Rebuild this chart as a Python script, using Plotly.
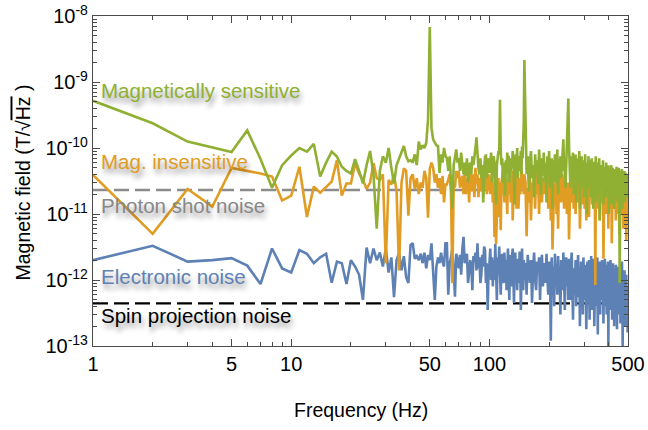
import numpy as np
import plotly.graph_objects as go

# ---------------- data (values in pT/sqrt(Hz)) ----------------
freq = list(range(1, 151)) + list(range(152, 501, 2))

mag_sensitive = [
    # 1..60
    520, 237, 125, 102, 87, 185, 68, 25, 55, 77,
    100, 88, 115, 37, 60, 88, 74, 52, 45, 41,
    68, 45, 29, 55, 90, 40, 6, 45, 75, 60,
    100, 50, 29, 55, 70, 85, 107, 75, 63, 65,
    60, 80, 55, 125, 95, 110, 100, 120, 270, 6800,
    200, 135, 120, 110, 107, 42, 80, 60, 100, 76,
    # 61..150
    70, 45, 75, 28, 12, 55, 80, 95, 60, 70,
    45, 85, 55, 40, 60, 38, 70, 30, 50, 60,
    40, 75, 55, 85, 100, 145, 65, 50, 40, 70,
    35, 55, 15, 40, 60, 80, 35, 50, 70, 42,
    65, 85, 30, 45, 75, 60, 25, 14, 55, 70,
    90, 80, 540, 90, 55, 70, 30, 45, 60, 19,
    65, 40, 85, 50, 76, 30, 60, 45, 70, 50,
    90, 70, 35, 14, 55, 80, 45, 100, 35, 60,
    75, 45, 60, 90, 40, 105, 70, 110, 250, 2150,
    # 152..500 step 2
    120, 40, 75, 22, 60, 90, 35, 55, 18, 80,
    45, 65, 28, 95, 50, 20, 70, 38, 85, 30,
    60, 15, 75, 45, 90, 25, 55, 70, 12, 65,
    40, 80, 30, 55, 95, 20, 60, 45, 75, 35,
    50, 80, 135, 45, 70, 25, 60, 90, 150, 560,
    110, 55, 25, 75, 35, 60, 85, 20, 65, 45,
    80, 15, 50, 70, 30, 55, 90, 12, 60, 40,
    75, 25, 50, 65, 18, 45, 80, 30, 55, 10,
    60, 40, 75, 25, 50, 65, 18, 45, 70, 30,
    55, 12, 48, 62, 22, 40, 75, 15, 45, 35,
    60, 20, 42, 70, 8, 38, 55, 25, 45, 30,
    50, 65, 14, 40, 52, 28, 45, 18, 60, 35,
    48, 22, 40, 55, 10, 38, 50, 25, 42, 30,
    55, 14, 40, 50, 20, 35, 48, 12, 42, 28,
    45, 18, 38, 52, 25, 40, 15, 45, 30, 50,
    20, 0.9, 38, 45, 18, 40, 28, 48, 12, 35,
    42, 20, 38, 30, 45, 15, 35, 42, 22, 38,
    25, 40, 18, 35, 30,
]

mag_insensitive = [
    # 1..60
    39, 5.0, 24, 13, 50, 45, 41, 37, 16, 19,
    52, 9, 26, 21, 26, 31, 65, 19, 29, 29,
    59, 41, 33, 24, 30, 59, 35, 33, 40, 1.8,
    33, 28, 40, 22, 1.4, 30, 49, 45, 9.4, 35,
    40, 24, 35, 20, 30, 25, 45, 35, 8.8, 48,
    60, 50, 30, 40, 25, 35, 20, 38, 15, 28,
    # 61..150
    28, 34, 40, 20, 0.9, 30, 25, 45, 35, 45,
    25, 30, 38, 20, 45, 20, 35, 30, 15, 45,
    22, 40, 35, 18, 50, 28, 40, 18, 35, 22,
    40, 28, 22, 45, 76, 35, 20, 30, 40, 25,
    20, 35, 40, 15, 30, 4.5, 25, 3.5, 20, 25,
    35, 9, 30, 5.7, 30, 40, 45, 25, 15, 35,
    30, 20, 10, 40, 25, 20, 45, 15, 35, 45,
    8, 25, 30, 18, 35, 40, 12, 28, 40, 12,
    30, 35, 20, 25, 48, 30, 25, 40, 20, 40,
    # 152..500 step 2
    30, 4.6, 25, 15, 40, 8, 30, 25, 35, 12,
    45, 20, 30, 10, 38, 22, 15, 35, 28, 20,
    30, 18, 40, 12, 25, 35, 8, 28, 2.9, 22,
    28, 15, 35, 10, 25, 6, 30, 20, 38, 15,
    40, 18, 30, 12, 45, 20, 28, 10, 25, 30,
    4.1, 22, 35, 15, 30, 20, 38, 12, 25, 30,
    10, 28, 18, 38, 15, 25, 32, 6, 20, 30,
    32, 14, 25, 20, 40, 12, 28, 35, 8, 22,
    28, 35, 15, 9, 25, 30, 18, 22, 30, 14,
    25, 35, 20, 12, 28, 0.84, 22, 30, 15, 35,
    25, 12, 30, 20, 8, 28, 35, 15, 22, 30,
    18, 25, 2.1, 20, 28, 12, 22, 18, 30, 10,
    25, 15, 30, 6, 22, 28, 15, 20, 25, 12,
    28, 3.6, 20, 26, 14, 22, 30, 12, 24, 18,
    24, 8, 20, 28, 14, 30, 22, 10, 25, 18,
    5, 22, 18, 28, 10, 25, 15, 20, 30, 10,
    20, 6, 18, 24, 12, 22, 9, 15, 20, 4,
    18, 12, 22, 8, 15,
]

electronic = [
    # 1..60
    2.0, 3.3, 1.9, 2.0, 2.14, 1.65, 0.87, 3.0, 1.5, 1.3,
    2.85, 2.5, 1.8, 2.2, 2.5, 0.91, 1.9, 1.8, 0.87, 2.0,
    1.6, 1.2, 0.5, 3.1, 1.8, 3.0, 2.0, 2.6, 1.6, 3.0,
    1.3, 2.2, 0.55, 2.0, 2.6, 1.4, 2.3, 1.1, 0.9, 3.4,
    3.6, 2.1, 2.3, 2.0, 2.5, 1.8, 2.6, 1.5, 2.4, 2.0,
    3.6, 1.5, 0.5, 1.6, 2.2, 1.8, 2.6, 1.9, 1.6, 3.6,
    # 61..150
    3.6, 0.6, 1.8, 2.2, 3.0, 1.4, 0.56, 2.5, 2.0, 1.5,
    2.4, 1.2, 3.0, 4.5, 1.8, 2.2, 2.5, 0.9, 1.3, 2.0,
    1.6, 0.7, 2.3, 1.9, 2.6, 1.4, 3.6, 1.5, 2.2, 0.9,
    1.2, 2.4, 1.6, 3.2, 2.8, 0.9, 1.8, 0.35, 1.4, 1.8,
    3.0, 1.0, 2.2, 0.8, 2.0, 1.0, 3.5, 1.6, 0.5, 2.2,
    1.2, 3.2, 1.5, 0.6, 1.8, 2.5, 1.0, 0.9, 2.6, 1.3,
    2.0, 0.7, 1.4, 3.0, 1.1, 0.5, 2.4, 1.6, 0.8, 2.2,
    3.0, 1.2, 0.45, 1.9, 2.6, 1.0, 1.5, 0.7, 2.1, 1.3,
    0.9, 2.7, 1.6, 0.35, 1.8, 3.0, 1.2, 0.7, 2.0, 1.6,
    # 152..500 step 2
    1.8, 0.6, 2.4, 1.2, 0.9, 2.0, 0.45, 1.5, 2.6, 1.0,
    0.7, 1.9, 1.3, 2.2, 0.5, 1.6, 2.4, 0.8, 1.2, 1.8,
    0.9, 2.5, 1.1, 0.6, 1.9, 1.4, 0.12, 2.2, 0.8, 1.6,
    0.4, 2.5, 1.1, 1.7, 0.6, 2.3, 0.9, 1.4, 0.3, 2.0,
    1.2, 0.7, 2.6, 1.0, 0.35, 1.8, 2.2, 0.8, 1.5, 0.5,
    2.1, 1.0, 0.5, 1.8, 2.6, 0.8, 0.25, 1.5, 1.1, 0.6,
    2.0, 0.4, 1.3, 0.9, 2.4, 0.55, 1.6, 0.2, 1.0, 1.9,
    0.7, 1.4, 0.3, 2.2, 0.9, 0.5, 1.7, 1.2, 0.18, 0.8,
    1.9, 0.45, 1.1, 2.0, 0.25, 1.6, 0.9, 2.3, 0.35, 1.3,
    0.6, 1.5, 2.1, 0.2, 1.0, 1.8, 0.4, 1.2, 0.8, 2.2,
    0.15, 1.4, 0.6, 1.1, 1.9, 0.3, 1.6, 0.5, 0.9, 2.0,
    0.7, 1.3, 0.22, 1.5, 1.0, 2.1, 0.4, 0.8, 1.7, 0.3,
    1.2, 0.6, 1.9, 0.1, 1.1, 0.8, 1.5, 0.35, 2.0, 0.9,
    0.5, 1.4, 0.25, 1.2, 1.8, 0.6, 0.9, 0.2, 1.5, 1.0,
    0.4, 1.7, 0.7, 1.1, 0.18, 1.3, 0.5, 0.9, 1.6, 0.3,
    1.0, 0.6, 1.4, 0.22, 0.8, 1.2, 0.4, 1.9, 0.7, 0.1,
    1.1, 0.5, 0.9, 0.3, 1.4, 0.7, 0.2, 1.0, 0.6, 1.2,
    0.25, 0.8, 0.5, 0.16, 0.7,
]

assert len(mag_sensitive) == len(freq), (len(mag_sensitive), len(freq))
assert len(mag_insensitive) == len(freq), (len(mag_insensitive), len(freq))
assert len(electronic) == len(freq), (len(electronic), len(freq))

photon_shot_level = 23.1    # pT/sqrt(Hz)
spin_proj_level = 0.443     # pT/sqrt(Hz)
line_span = [1, 500]

x_ticks = [1, 5, 10, 50, 100, 500]
y_exponents = [-13, -12, -11, -10, -9, -8]

PT = 1e-12

BLUE = "#5E81B5"
ORANGE = "#E19C24"
GREEN = "#8FB032"
GRAY = "#8C8C8C"
FONT = "Liberation Sans, Arial, Helvetica, sans-serif"
LW = 2.6

fig = go.Figure()
fig.add_trace(go.Scatter(x=line_span, y=[photon_shot_level * PT] * 2, mode="lines",
                         line=dict(color=GRAY, width=2.4, dash="15px,6px"), hoverinfo="skip"))
fig.add_trace(go.Scatter(x=line_span, y=[spin_proj_level * PT] * 2, mode="lines",
                         line=dict(color="black", width=2.4, dash="15px,6px"), hoverinfo="skip"))
fig.add_trace(go.Scatter(x=freq, y=[v * PT for v in electronic], mode="lines",
                         line=dict(color=BLUE, width=LW)))
fig.add_trace(go.Scatter(x=freq, y=[v * PT for v in mag_insensitive], mode="lines",
                         line=dict(color=ORANGE, width=LW)))
fig.add_trace(go.Scatter(x=freq, y=[v * PT for v in mag_sensitive], mode="lines",
                         line=dict(color=GREEN, width=LW)))

xminor = [m * d for d in (1, 10, 100) for m in range(2, 10) if m * d < 500 and m * d not in (5, 50)]
yminor = [m * 10.0 ** e for e in range(-13, -8) for m in range(2, 10)]

axis_common = dict(showgrid=False, zeroline=False, showline=True, linecolor="#4a4a4a",
                   linewidth=1.2, mirror="ticks", ticks="inside", tickcolor="#4a4a4a",
                   tickwidth=1, automargin=False,
                   tickfont=dict(family=FONT, size=20, color="black"))

fig.update_xaxes(type="log", range=[0, np.log10(500)], tickmode="array",
                 tickvals=x_ticks, ticktext=[str(t) for t in x_ticks], ticklen=7,
                 minor=dict(tickmode="array", tickvals=xminor, ticklen=4, ticks="inside",
                            tickcolor="#4a4a4a", tickwidth=1),
                 **axis_common)
fig.update_yaxes(type="log", range=[-13, -8], tickmode="array",
                 tickvals=[10.0 ** e for e in y_exponents],
                 ticktext=["10<sup>%d</sup>" % e for e in y_exponents], ticklen=7,
                 minor=dict(tickmode="array", tickvals=yminor, ticklen=4, ticks="inside",
                            tickcolor="#4a4a4a", tickwidth=1),
                 **axis_common)

L, R, T, B = 93, 628, 16, 346


def px(xp):
    return (xp - L) / (R - L)


def py(yp):
    return (B - yp) / (B - T)


shadow = "2px 5px 5px rgba(0,0,0,0.4)"
labels = [
    ("Magnetically sensitive", GREEN, 90),
    ("Mag. insensitive", ORANGE, 161.7),
    ("Photon shot noise", "#888888", 206),
    ("Electronic noise", BLUE, 276.7),
    ("Spin projection noise", "black", 315),
]
for text, col, yc in labels:
    fig.add_annotation(x=px(99), y=py(yc), xref="paper", yref="paper", text=text,
                       showarrow=False, xanchor="left", yanchor="middle",
                       font=dict(family=FONT, size=20.5, color=col, shadow=shadow))

fig.add_annotation(x=px(360.5), y=py(410), xref="paper", yref="paper",
                   text="Frequency (Hz)", showarrow=False, xanchor="center", yanchor="middle",
                   font=dict(family=FONT, size=19.5, color="black"))
fig.add_annotation(x=px(22), y=py(182.5), xref="paper", yref="paper",
                   text="Magnetic field (T/√<span style='text-decoration:overline'>Hz</span> )",
                   showarrow=False, xanchor="center", yanchor="middle", textangle=-90,
                   font=dict(family=FONT, size=19.5, color="black"))

fig.update_layout(width=648, height=430, margin=dict(l=L, r=648 - R, t=T, b=430 - B),
                  paper_bgcolor="white", plot_bgcolor="white", showlegend=False)

fig.write_html("out.html")
